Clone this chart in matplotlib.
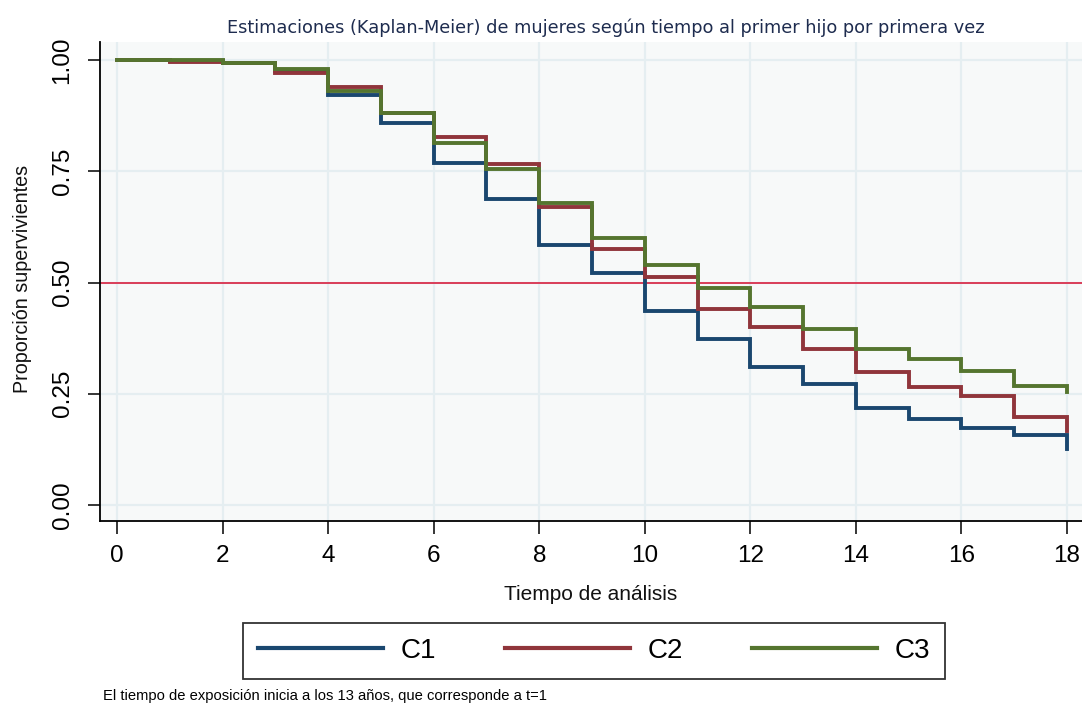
import matplotlib
matplotlib.use("Agg")
import matplotlib.pyplot as plt

# ---- data ----
tiempo = list(range(0, 19))
c1 = [1.0, 0.998, 0.993, 0.975, 0.921, 0.859, 0.769, 0.688, 0.584, 0.521,
      0.436, 0.373, 0.309, 0.272, 0.219, 0.193, 0.172, 0.157, 0.125]
c2 = [1.0, 0.995, 0.993, 0.970, 0.939, 0.880, 0.826, 0.766, 0.669, 0.575,
      0.512, 0.440, 0.399, 0.350, 0.300, 0.265, 0.244, 0.197, 0.167]
c3 = [1.0, 1.0, 0.993, 0.979, 0.930, 0.880, 0.813, 0.754, 0.678, 0.601,
      0.539, 0.487, 0.444, 0.395, 0.350, 0.327, 0.301, 0.267, 0.253]
series_names = ["C1", "C2", "C3"]
x_ticks = list(range(0, 19, 2))
y_ticks = [0.0, 0.25, 0.5, 0.75, 1.0]
y_ticklabels = ["0.00", "0.25", "0.50", "0.75", "1.00"]
referencia = 0.5

title = "Estimaciones (Kaplan-Meier) de mujeres según tiempo al primer hijo por primera vez"
xlabel = "Tiempo de análisis"
ylabel = "Proporción supervivientes"
nota = "El tiempo de exposición inicia a los 13 años, que corresponde a t=1"

sans = "Liberation Sans"
colors = ["#1a476f", "#90353b", "#55752f"]

fig = plt.figure(figsize=(10.82, 7.06), dpi=100)
fig.patch.set_facecolor("white")
ax = fig.add_axes([100 / 1082, 1 - 521 / 706, 982 / 1082, (521 - 42) / 706])
ax.set_facecolor("#f7f9f9")

x0, px = 117, 950 / 18
ax.set_xlim((100 - x0) / px, (1082 - x0) / px)
y0, py = 505, 445
ax.set_ylim(-(521 - y0) / py, (y0 - 42) / py)

for t in x_ticks:
    ax.axvline(t, color="#e5eef1", lw=1.6, zorder=0)
for v in y_ticks:
    ax.axhline(v, color="#e5eef1", lw=1.6, zorder=0)

ax.axhline(referencia, color="#d8304c", lw=1.3, zorder=1)

for vals, name, col in zip([c1, c2, c3], series_names, colors):
    ax.step(tiempo, vals, where="post", color=col, lw=2.8, label=name,
            solid_joinstyle="miter", zorder=2)

for s in ["top", "right"]:
    ax.spines[s].set_visible(False)
for s in ["left", "bottom"]:
    ax.spines[s].set_linewidth(1.3)
    ax.spines[s].set_color("black")

ax.set_xticks(x_ticks)
ax.set_xticklabels([str(t) for t in x_ticks], fontsize=17.5, family=sans)
ax.set_yticks(y_ticks)
ax.set_yticklabels(y_ticklabels, fontsize=17.5, family=sans,
                   rotation=90, va="center")
ax.tick_params(axis="both", length=9, width=1.1, color="black")
ax.tick_params(axis="x", pad=8.5)
ax.tick_params(axis="y", pad=10)

fig.text(591 / 1082, 1 - 594 / 706, xlabel, ha="center", va="center",
         fontsize=15, family=sans, color="#111111")
fig.text(23 / 1082, 1 - 279 / 706, ylabel, ha="center", va="center",
         rotation=90, fontsize=14.2, family=sans, color="#111111")
fig.text(606 / 1082, 1 - 28 / 706, title, ha="center", va="center",
         fontsize=12.8, family="DejaVu Sans", color="#1e2c4f")
fig.text(103 / 1082, 1 - 696 / 706, nota, ha="left", va="center",
         fontsize=10.6, family=sans, color="black")

leg = fig.legend(loc="center", bbox_to_anchor=(594 / 1082, 1 - 651 / 706),
                 ncol=3, frameon=True, fancybox=False, edgecolor="black",
                 prop={"family": sans, "size": 20},
                 handlelength=4.5, handletextpad=0.62, columnspacing=2.5,
                 borderpad=0.55)
leg.get_frame().set_linewidth(1.3)
for h in leg.legend_handles:
    h.set_linewidth(3.0)

fig.savefig("out.png", dpi=100, facecolor="white")
